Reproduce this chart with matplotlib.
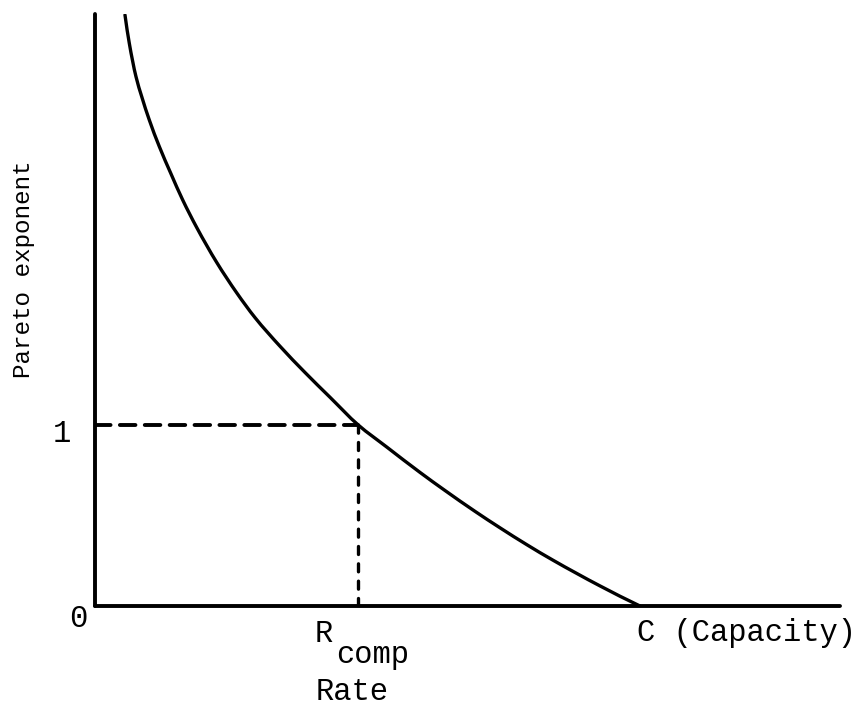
import numpy as np
import matplotlib
matplotlib.use("Agg")
import matplotlib.pyplot as plt
from matplotlib.path import Path
from matplotlib.patches import PathPatch

# Pareto exponent as a function of rate (capacity C normalised to 1)
rate = [0.055, 0.0629, 0.0752, 0.0857, 0.0996, 0.118, 0.1389, 0.1609,
        0.1866, 0.2233, 0.26, 0.2936, 0.3394, 0.3853, 0.4312, 0.483,
        0.5358, 0.5963, 0.6422, 0.6972, 0.7431, 0.7927, 0.8404, 0.9266,
        1.0]
exponent = [3.265, 3.109, 2.924, 2.814, 2.685, 2.538, 2.391, 2.243,
            2.091, 1.898, 1.73, 1.593, 1.435, 1.29, 1.153, 1.0,
            0.877, 0.738, 0.638, 0.523, 0.432, 0.338, 0.253, 0.111,
            0.0]
r_comp = 0.483
capacity = 1.0
x_max = 1.367
y_max = 3.27


def pchip_slopes(x, y):
    h = np.diff(x)
    d = np.diff(y) / h
    m = np.zeros_like(x)
    for k in range(1, len(x) - 1):
        if d[k - 1] * d[k] <= 0:
            m[k] = 0.0
        else:
            w1 = 2 * h[k] + h[k - 1]
            w2 = h[k] + 2 * h[k - 1]
            m[k] = (w1 + w2) / (w1 / d[k - 1] + w2 / d[k])
    m[0] = ((2 * h[0] + h[1]) * d[0] - h[0] * d[1]) / (h[0] + h[1])
    if np.sign(m[0]) != np.sign(d[0]):
        m[0] = 0.0
    m[-1] = ((2 * h[-1] + h[-2]) * d[-1] - h[-1] * d[-2]) / (h[-1] + h[-2])
    if np.sign(m[-1]) != np.sign(d[-1]):
        m[-1] = 0.0
    return m


def smooth_path(xs, ys):
    """Monotone cubic curve through the points, as Bezier segments."""
    x = np.asarray(xs, float)
    y = np.asarray(ys, float)
    m = pchip_slopes(x, y)
    verts = [(x[0], y[0])]
    codes = [Path.MOVETO]
    for i in range(len(x) - 1):
        h = x[i + 1] - x[i]
        verts += [(x[i] + h / 3, y[i] + m[i] * h / 3),
                  (x[i + 1] - h / 3, y[i + 1] - m[i + 1] * h / 3),
                  (x[i + 1], y[i + 1])]
        codes += [Path.CURVE4] * 3
    return Path(verts, codes)


W, H = 864, 706
fig = plt.figure(figsize=(W / 100, H / 100), dpi=100)
ax = fig.add_axes([95 / W, 100 / H, 745 / W, 592 / H])
ax.set_xlim(0, x_max)
ax.set_ylim(0, y_max)
for s in ("top", "right"):
    ax.spines[s].set_visible(False)
for s in ("left", "bottom"):
    ax.spines[s].set_linewidth(2.8)
    ax.spines[s].set_capstyle("round")
ax.set_xticks([])
ax.set_yticks([])
ax.patch.set_alpha(0)

ax.add_patch(PathPatch(smooth_path(rate, exponent), facecolor="none",
                       edgecolor="black", lw=2.4, capstyle="round"))

# guide lines at exponent = 1
ax.plot([0, r_comp], [1, 1], color="black", lw=2.8,
        dashes=(4.0, 2.4), dash_capstyle="round")
ax.plot([r_comp, r_comp], [0, 1], color="black", lw=2.4,
        dashes=(2.4, 2.8), dash_capstyle="round")

mono = "Liberation Mono"
fs = 22
ax.text(-0.031, -0.116, "0", ha="center", va="baseline", fontsize=fs,
        family=mono)
ax.text(-0.061, 0.906, "1", ha="center", va="baseline", fontsize=fs,
        family=mono)
ax.text(r_comp - 0.046, -0.199, "R", ha="right", va="baseline", fontsize=fs,
        family=mono)
ax.text(r_comp - 0.041, -0.315, "comp", ha="left", va="baseline",
        fontsize=fs, family=mono)
ax.text(r_comp - 0.011, -0.52, "Rate", ha="center", va="baseline",
        fontsize=fs, family=mono)
ax.text(capacity - 0.006, -0.193, "C (Capacity)", ha="left",
        va="baseline", fontsize=fs, family=mono)
ax.text(-0.132, 1.86, "Pareto exponent", rotation=90, ha="center",
        va="center", fontsize=17.5, family=mono)

fig.savefig("out.png", dpi=100, facecolor="white")
